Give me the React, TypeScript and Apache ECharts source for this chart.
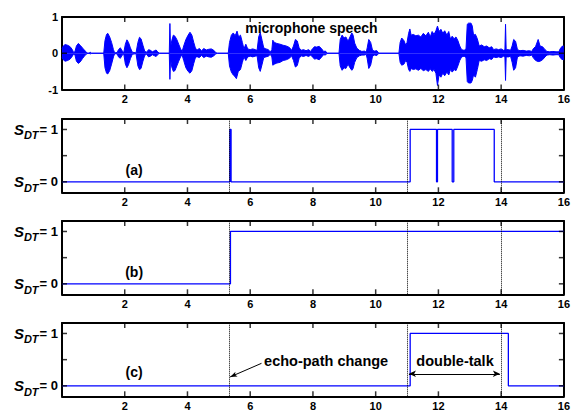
import React, { useEffect, useRef } from "react";
import * as echarts from "echarts";

// ---------- data ----------
const X_MIN = 0;
const X_MAX = 16;
const X_INTERVAL = 2;

// microphone speech: upper and lower envelope (time [s], amplitude)
const SPEECH_UPPER: [number, number][] = [
  [0, 0.12], [0.04, 0.2], [0.1, 0.24], [0.18, 0.22], [0.26, 0.18], [0.33, 0.1], [0.37, 0.02], [0.41, 0.04], [0.46, 0.2], [0.52, 0.27], [0.58, 0.22], [0.66, 0.14], [0.74, 0.06], [0.8, 0.01], [0.86, 0], [0.9, 0.03], [0.93, 0],
  [1.33, 0], [1.37, 0.35], [1.42, 0.52], [1.46, 0.55], [1.52, 0.45], [1.58, 0.3], [1.64, 0.1], [1.68, 0.01],
  [1.76, 0.02], [1.8, 0.1], [1.86, 0.15], [1.92, 0.06], [1.97, 0.02], [2.02, 0.25], [2.07, 0.37], [2.12, 0.3], [2.18, 0.15], [2.24, 0.03],
  [2.36, 0.01], [2.42, 0.3], [2.47, 0.44], [2.52, 0.4], [2.58, 0.22], [2.64, 0.05], [2.7, 0.03], [2.76, 0.1], [2.82, 0.08], [2.88, 0.04], [2.95, 0.07], [3.0, 0.09], [3.05, 0.04], [3.1, 0],
  [3.42, 0], [3.44, 0.82], [3.46, 0.15], [3.5, 0.35], [3.55, 0.5], [3.6, 0.47], [3.66, 0.38], [3.72, 0.25], [3.78, 0.12], [3.83, 0.05], [3.88, 0.2], [3.95, 0.38], [4.02, 0.5], [4.08, 0.58], [4.14, 0.5], [4.2, 0.3], [4.26, 0.12],
  [4.32, 0.1], [4.38, 0.13], [4.45, 0.07], [4.52, 0.13], [4.6, 0.09], [4.68, 0.11], [4.76, 0.12], [4.84, 0.08], [4.9, 0.02], [4.95, 0],
  [5.3, 0], [5.34, 0.3], [5.4, 0.5], [5.46, 0.56], [5.52, 0.48], [5.58, 0.61], [5.63, 0.45], [5.69, 0.5], [5.75, 0.3], [5.8, 0.12], [5.86, 0.25], [5.92, 0.12], [6.0, 0.1], [6.08, 0.12], [6.16, 0.1], [6.22, 0.08], [6.27, 0.45], [6.32, 0.57], [6.38, 0.35], [6.43, 0.15], [6.5, 0.12], [6.58, 0.1], [6.64, 0.03],
  [6.69, 0.1], [6.72, 0.36], [6.77, 0.3], [6.85, 0.27], [6.95, 0.25], [7.05, 0.22], [7.15, 0.2], [7.25, 0.16], [7.32, 0.08], [7.38, 0.2], [7.44, 0.38], [7.5, 0.34], [7.56, 0.15], [7.62, 0.08], [7.7, 0.1], [7.78, 0.07], [7.86, 0.1], [7.93, 0.05],
  [7.98, 0.12], [8.05, 0.18], [8.12, 0.17], [8.2, 0.19], [8.28, 0.12], [8.34, 0.05], [8.4, 0.06], [8.45, 0],
  [8.83, 0], [8.87, 0.38], [8.93, 0.5], [8.99, 0.42], [9.05, 0.45], [9.12, 0.33], [9.18, 0.45], [9.24, 0.56], [9.28, 0.5], [9.33, 0.28], [9.4, 0.14], [9.48, 0.08], [9.56, 0.05], [9.64, 0.06], [9.7, 0.03],
  [9.73, 0.15], [9.78, 0.38], [9.84, 0.3], [9.9, 0.08], [9.96, 0.06], [10.04, 0.07], [10.1, 0],
  [10.74, 0], [10.78, 0.3], [10.83, 0.42], [10.9, 0.35], [10.96, 0.22], [11.0, 0.3], [11.05, 0.55], [11.09, 0.67], [11.13, 0.5], [11.2, 0.52], [11.28, 0.48], [11.36, 0.5], [11.44, 0.45], [11.52, 0.55], [11.6, 0.48], [11.68, 0.58], [11.74, 0.45], [11.8, 0.6], [11.86, 0.52], [11.92, 0.62], [11.97, 0.75], [12.02, 0.6], [12.08, 0.66], [12.14, 0.55], [12.2, 0.62], [12.27, 0.5], [12.33, 0.6], [12.38, 0.4], [12.44, 0.47], [12.5, 0.4], [12.56, 0.45], [12.62, 0.35], [12.68, 0.2], [12.74, 0.1], [12.82, 0.08], [12.88, 0.12],
  [12.92, 0.8], [12.96, 0.83], [13.04, 0.83], [13.08, 0.75], [13.12, 0.5], [13.18, 0.52], [13.24, 0.4], [13.3, 0.2], [13.38, 0.23], [13.46, 0.18], [13.54, 0.2], [13.62, 0.15], [13.7, 0.18], [13.76, 0.1], [13.84, 0.12], [13.92, 0.1], [14.0, 0.12], [14.08, 0.08], [14.12, 0.1], [14.14, 0.8], [14.16, 0.1], [14.24, 0.1], [14.3, 0.08],
  [14.35, 0.2], [14.4, 0.38], [14.46, 0.33], [14.52, 0.1], [14.6, 0.07], [14.7, 0.08], [14.8, 0.06], [14.9, 0.07], [14.98, 0.05],
  [15.02, 0.12], [15.1, 0.19], [15.18, 0.38], [15.24, 0.2], [15.32, 0.18], [15.4, 0.1], [15.46, 0.05], [15.55, 0.04], [15.65, 0.05], [15.75, 0.04], [15.84, 0.04], [15.88, 0.12], [15.94, 0.19], [16, 0.2],
];

const SPEECH_LOWER: [number, number][] = [
  [0, -0.12], [0.04, -0.18], [0.1, -0.22], [0.18, -0.2], [0.26, -0.16], [0.33, -0.08], [0.37, -0.02], [0.41, -0.04], [0.46, -0.22], [0.52, -0.28], [0.58, -0.24], [0.66, -0.14], [0.74, -0.05], [0.8, -0.01], [0.86, 0], [0.9, -0.02], [0.93, 0],
  [1.33, 0], [1.37, -0.4], [1.42, -0.55], [1.46, -0.57], [1.52, -0.48], [1.58, -0.3], [1.64, -0.1], [1.68, -0.01],
  [1.76, -0.02], [1.8, -0.1], [1.86, -0.14], [1.92, -0.05], [1.97, -0.02], [2.02, -0.3], [2.07, -0.4], [2.12, -0.32], [2.18, -0.15], [2.24, -0.03],
  [2.36, -0.01], [2.42, -0.35], [2.47, -0.45], [2.52, -0.42], [2.58, -0.22], [2.64, -0.05], [2.7, -0.03], [2.76, -0.1], [2.82, -0.08], [2.88, -0.04], [2.95, -0.07], [3.0, -0.09], [3.05, -0.04], [3.1, 0],
  [3.42, 0], [3.44, -0.72], [3.46, -0.15], [3.5, -0.38], [3.55, -0.5], [3.6, -0.48], [3.66, -0.35], [3.72, -0.22], [3.78, -0.1], [3.83, -0.05], [3.88, -0.2], [3.95, -0.4], [4.02, -0.5], [4.08, -0.55], [4.14, -0.48], [4.2, -0.28], [4.26, -0.1],
  [4.32, -0.1], [4.38, -0.12], [4.45, -0.06], [4.52, -0.12], [4.6, -0.08], [4.68, -0.1], [4.76, -0.11], [4.84, -0.07], [4.9, -0.02], [4.95, 0],
  [5.3, 0], [5.34, -0.35], [5.4, -0.52], [5.46, -0.6], [5.52, -0.65], [5.56, -0.7], [5.62, -0.5], [5.69, -0.45], [5.75, -0.25], [5.8, -0.1], [5.86, -0.2], [5.92, -0.1], [6.0, -0.08], [6.08, -0.1], [6.16, -0.08], [6.22, -0.07], [6.27, -0.4], [6.32, -0.5], [6.38, -0.3], [6.43, -0.12], [6.5, -0.1], [6.58, -0.08], [6.64, -0.03],
  [6.69, -0.1], [6.72, -0.33], [6.77, -0.3], [6.85, -0.27], [6.95, -0.25], [7.05, -0.2], [7.15, -0.18], [7.25, -0.14], [7.32, -0.07], [7.38, -0.2], [7.44, -0.38], [7.5, -0.34], [7.56, -0.14], [7.62, -0.07], [7.7, -0.09], [7.78, -0.06], [7.86, -0.09], [7.93, -0.05],
  [7.98, -0.1], [8.05, -0.16], [8.12, -0.15], [8.2, -0.18], [8.28, -0.1], [8.34, -0.04], [8.4, -0.05], [8.45, 0],
  [8.83, 0], [8.87, -0.35], [8.93, -0.47], [8.99, -0.4], [9.05, -0.42], [9.12, -0.3], [9.18, -0.4], [9.24, -0.47], [9.28, -0.42], [9.33, -0.25], [9.4, -0.12], [9.48, -0.07], [9.56, -0.05], [9.64, -0.05], [9.7, -0.03],
  [9.73, -0.15], [9.78, -0.42], [9.84, -0.33], [9.9, -0.08], [9.96, -0.05], [10.04, -0.06], [10.1, 0],
  [10.74, 0], [10.78, -0.25], [10.83, -0.33], [10.9, -0.3], [10.96, -0.2], [11.0, -0.25], [11.05, -0.45], [11.09, -0.5], [11.13, -0.42], [11.2, -0.45], [11.28, -0.43], [11.36, -0.47], [11.44, -0.42], [11.52, -0.48], [11.6, -0.45], [11.68, -0.5], [11.74, -0.43], [11.8, -0.5], [11.86, -0.45], [11.92, -0.55], [11.97, -0.89], [12.02, -0.6], [12.08, -0.66], [12.14, -0.55], [12.2, -0.62], [12.27, -0.52], [12.33, -0.6], [12.38, -0.45], [12.44, -0.52], [12.5, -0.45], [12.56, -0.48], [12.62, -0.35], [12.68, -0.2], [12.74, -0.1], [12.82, -0.08], [12.88, -0.12],
  [12.92, -0.78], [12.96, -0.82], [13.04, -0.82], [13.08, -0.75], [13.12, -0.6], [13.18, -0.66], [13.24, -0.45], [13.3, -0.2], [13.38, -0.22], [13.46, -0.18], [13.54, -0.2], [13.62, -0.15], [13.7, -0.17], [13.76, -0.1], [13.84, -0.12], [13.92, -0.1], [14.0, -0.12], [14.08, -0.08], [14.12, -0.1], [14.14, -0.75], [14.16, -0.1], [14.24, -0.1], [14.3, -0.08],
  [14.35, -0.25], [14.4, -0.47], [14.46, -0.4], [14.52, -0.1], [14.6, -0.07], [14.7, -0.08], [14.8, -0.06], [14.9, -0.07], [14.98, -0.05],
  [15.02, -0.12], [15.1, -0.2], [15.18, -0.23], [15.24, -0.22], [15.32, -0.18], [15.4, -0.1], [15.46, -0.05], [15.55, -0.04], [15.65, -0.05], [15.75, -0.04], [15.84, -0.04], [15.88, -0.12], [15.94, -0.17], [16, -0.18],
];

// double-talk detector outputs S_DT (time, value)
const SDT_A: [number, number][] = [
  [0, 0], [5.35, 0], [5.35, 1], [5.39, 1], [5.39, 0], [11.1, 0], [11.1, 1], [11.94, 1], [11.94, 0], [11.97, 0], [11.97, 1],
  [12.44, 1], [12.44, 0], [12.49, 0], [12.49, 1], [13.78, 1], [13.78, 0], [16, 0],
];
const SDT_B: [number, number][] = [[0, 0], [5.37, 0], [5.37, 1], [16, 1]];
const SDT_C: [number, number][] = [[0, 0], [11.1, 0], [11.1, 1], [14.23, 1], [14.23, 0], [16, 0]];

// event times (dotted lines): echo-path change, double-talk start, double-talk end
const EVENT_TIMES = [5.32, 11.0, 14.0];

// tick positions (interior marks drawn inside the box)
const X_TICKS_INNER = [2, 4, 6, 8, 10, 12, 14];
const SPEECH_Y_TICKS = [-1, 0, 1];
const SPEECH_Y_TICKS_INNER = [0];
const SDT_TICKS = [0, 0.5, 1];
const SDT_LABELS = [0, 1];

const PANEL_TAGS = ["(a)", "(b)", "(c)"];

// ---------- layout / style ----------
const FONT = '"Liberation Sans", Arial, Helvetica, sans-serif';
const BLUE = "#0000ff";
const LEFT = 62;
const RIGHT = 9;
const TOPS = [17, 119, 221, 323];
const HEIGHTS = [72.5, 73.3, 73.3, 73.3];
const Y_RANGES: [number, number][] = [[-1, 1], [-0.2, 1.2], [-0.2, 1.2], [-0.2, 1.2]];

const AXLINE = { show: true, onZero: false, lineStyle: { color: "#000", width: 2 } };

function xAxesFor(i: number) {
  const common = {
    type: "value",
    gridIndex: i,
    min: X_MIN,
    max: X_MAX,
    interval: X_INTERVAL,
    axisLine: AXLINE,
    splitLine: { show: false },
    axisTick: { show: false },
  };
  return [
    {
      ...common,
      position: "bottom",
      axisLabel: {
        formatter: (v: number) => (v === 0 ? "" : String(v)),
        fontWeight: "bold",
        fontSize: 11,
        fontFamily: FONT,
        color: "#000",
        margin: 4,
      },
    },
    { ...common, position: "top", axisLabel: { show: false } },
  ];
}

function yAxesFor(i: number) {
  if (i === 0) {
    const common = {
      type: "value",
      gridIndex: 0,
      min: -1,
      max: 1,
      interval: 1,
      axisLine: AXLINE,
      splitLine: { show: false },
      axisTick: { show: false },
    };
    return [
      {
        ...common,
        position: "left",
        axisLabel: { fontWeight: "bold", fontSize: 11, fontFamily: FONT, color: "#000", margin: 4, customValues: SPEECH_Y_TICKS },
      },
      { ...common, position: "right", axisLabel: { show: false } },
    ];
  }
  const common = {
    type: "value",
    gridIndex: i,
    min: -0.2,
    max: 1.2,
    axisLine: AXLINE,
    splitLine: { show: false },
    axisTick: { show: false },
  };
  return [
    {
      ...common,
      position: "left",
      axisLabel: {
        customValues: SDT_LABELS,
        margin: 4,
        color: "#000",
        formatter: (v: number) => `{s|S}{sub|DT}{n|= ${v}}`,
        rich: {
          s: { fontSize: 15, fontWeight: "bold", fontStyle: "italic", fontFamily: FONT, color: "#000" },
          sub: { fontSize: 11, fontWeight: "bold", fontStyle: "italic", fontFamily: FONT, color: "#000", padding: [12, 1, 0, 0] },
          n: { fontSize: 13, fontWeight: "bold", fontFamily: FONT, color: "#000" },
        },
      },
    },
    { ...common, position: "right", axisLabel: { show: false } },
  ];
}

// inward tick marks drawn as thin rect symbols sitting on the box edges
function tickSeries(i: number) {
  const [ymin, ymax] = Y_RANGES[i];
  const yTicks = i === 0 ? SPEECH_Y_TICKS_INNER : SDT_TICKS;
  const base = {
    type: "scatter",
    xAxisIndex: 2 * i,
    yAxisIndex: 2 * i,
    symbol: "rect",
    itemStyle: { color: "#000" },
    silent: true,
    clip: false,
    emphasis: { disabled: true },
    z: 5,
  };
  return [
    { ...base, data: X_TICKS_INNER.map((t) => [t, ymin]), symbolSize: [1.5, 5], symbolOffset: [0, -2.5] },
    { ...base, data: X_TICKS_INNER.map((t) => [t, ymax]), symbolSize: [1.5, 5], symbolOffset: [0, 2.5] },
    { ...base, data: yTicks.map((v) => [X_MIN, v]), symbolSize: [5, 1.5], symbolOffset: [2.5, 0] },
    { ...base, data: yTicks.map((v) => [X_MAX, v]), symbolSize: [5, 1.5], symbolOffset: [-2.5, 0] },
  ];
}

const dottedMarks = {
  silent: true,
  symbol: ["none", "none"],
  label: { show: false },
  lineStyle: { color: "#000", type: "dotted", width: 1 },
  emphasis: { disabled: true },
  data: EVENT_TIMES.map((t) => ({ xAxis: t })),
};

export default function App() {
  const ref = useRef<HTMLDivElement>(null);

  useEffect(() => {
    document.body.style.margin = "0";
    if (!ref.current) return;
    const chart = echarts.init(ref.current, null, { renderer: "svg" });

    const grids = TOPS.map((top, i) => ({
      left: LEFT,
      right: RIGHT,
      top,
      height: HEIGHTS[i],
      show: false,
      containLabel: false,
    }));

    const xAxis: any[] = [];
    const yAxis: any[] = [];
    for (let i = 0; i < 4; i++) {
      xAxis.push(...xAxesFor(i));
      yAxis.push(...yAxesFor(i));
    }

    const stepSeries = (i: number, data: [number, number][]) => ({
      type: "line",
      xAxisIndex: 2 * i,
      yAxisIndex: 2 * i,
      data,
      symbol: "none",
      showSymbol: false,
      lineStyle: { color: BLUE, width: 1.3 },
      emphasis: { disabled: true },
      markLine: dottedMarks,
      z: 3,
    });

    const series: any[] = [
      {
        type: "line",
        xAxisIndex: 0,
        yAxisIndex: 0,
        data: SPEECH_UPPER,
        symbol: "none",
        lineStyle: { color: BLUE, width: 1 },
        areaStyle: { color: BLUE, opacity: 1 },
        emphasis: { disabled: true },
      },
      {
        type: "line",
        xAxisIndex: 0,
        yAxisIndex: 0,
        data: SPEECH_LOWER,
        symbol: "none",
        lineStyle: { color: BLUE, width: 1 },
        areaStyle: { color: BLUE, opacity: 1 },
        emphasis: { disabled: true },
      },
      stepSeries(1, SDT_A),
      stepSeries(2, SDT_B),
      stepSeries(3, SDT_C),
      {
        type: "line",
        xAxisIndex: 6,
        yAxisIndex: 6,
        data: [],
        markLine: {
          silent: true,
          symbol: ["none", "arrow"],
          symbolSize: [4, 7],
          label: { show: false },
          lineStyle: { color: "#000", type: "solid", width: 1 },
          emphasis: { disabled: true },
          data: [[{ coord: [6.36, 0.43] }, { coord: [5.36, 0.17] }]],
        },
      },
      {
        type: "line",
        xAxisIndex: 6,
        yAxisIndex: 6,
        data: [],
        markLine: {
          silent: true,
          symbol: ["arrow", "arrow"],
          symbolSize: [5, 7],
          label: { show: false },
          lineStyle: { color: "#000", type: "solid", width: 1 },
          emphasis: { disabled: true },
          data: [[{ coord: [11.06, 0.23] }, { coord: [13.96, 0.23] }]],
        },
      },
    ];
    for (let i = 0; i < 4; i++) series.push(...tickSeries(i));

    chart.setOption({
      animation: false,
      grid: grids,
      xAxis,
      yAxis,
      series,
    });

    const px = (g: number, x: number, y: number) => chart.convertToPixel({ gridIndex: g } as any, [x, y]) as number[];
    const txt = (g: number, x: number, y: number, text: string, size: number) => {
      const p = px(g, x, y);
      return {
        type: "text",
        x: p[0],
        y: p[1],
        z: 100,
        style: {
          text,
          fill: "#000",
          font: `bold ${size}px ${FONT}`,
          align: "center",
          verticalAlign: "middle",
          textAlign: "center",
          textVerticalAlign: "middle",
        },
      };
    };

    chart.setOption({
      graphic: [
        txt(0, 7.95, 0.7, "microphone speech", 14),
        txt(1, 2.3, 0.23, PANEL_TAGS[0], 14),
        txt(2, 2.3, 0.23, PANEL_TAGS[1], 14),
        txt(3, 2.3, 0.27, PANEL_TAGS[2], 14),
        txt(3, 8.42, 0.47, "echo-path change", 14.5),
        txt(3, 12.53, 0.47, "double-talk", 14.5),
      ],
    });

    return () => chart.dispose();
  }, []);

  return <div ref={ref} style={{ width: 573, height: 412 }} />;
}
